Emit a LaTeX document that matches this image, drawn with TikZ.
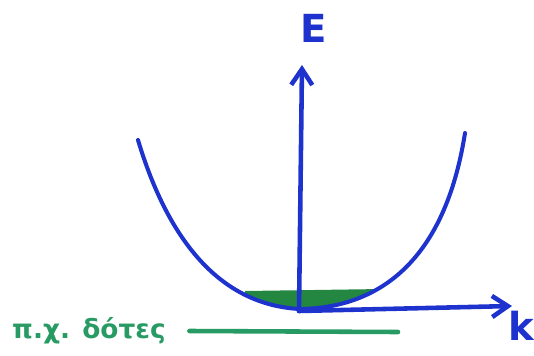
\documentclass[tikz,border=0pt]{standalone}
\usepackage{fontspec}
\setmainfont{DejaVu Sans}
\usepackage{xcolor}
\usetikzlibrary{arrows.meta,positioning}

\definecolor{penblue}{RGB}{30,50,205}
\definecolor{pengreen}{RGB}{40,155,100}
\definecolor{fillgreen}{RGB}{35,135,65}

\begin{document}
\begin{tikzpicture}[x=0.02cm,y=-0.02cm,>={Straight Barb[length=9pt,width=12pt]},
    pen/.style={penblue,line width=2.6pt,line cap=round,line join=round},
    lbl/.style={penblue,font=\fontsize{22}{24}\selectfont\bfseries}]
  \useasboundingbox (0,0) rectangle (534,355);

  % filled states at the band bottom
  \begin{scope}
    \clip (138,140) .. controls (168,240) and (220,305) .. (300,309)
      .. controls (380,308) and (445,260) .. (465,133) -- cycle;
    \fill[fillgreen] (245,291) -- (383,289) -- (383,320) -- (245,320) -- cycle;
  \end{scope}

  % band E(k)
  \draw[pen,line width=2.3pt] (138,140) .. controls (168,240) and (220,305) .. (300,309)
    .. controls (380,308) and (445,260) .. (465,133);

  % axes
  \coordinate (O) at (299,311);
  \coordinate (Etip) at (302,65);
  \coordinate (ktip) at (512,306);
  \draw[pen,->] (O) -- (Etip);
  \draw[pen,->] (O) -- (ktip);
  \node[lbl] (E) at (314,28) {E};
  \node[lbl] (k) at (521,326) {k};

  % donor level
  \node[pengreen,anchor=west,font=\fontsize{15}{18}\selectfont\bfseries] (don) at (6,331) {π.χ. δότες};
  \coordinate (donend) at (398,332);
  \draw[pengreen,line width=2.6pt,line cap=round] ([xshift=10pt]don.east) -- (donend);
\end{tikzpicture}
\end{document}
